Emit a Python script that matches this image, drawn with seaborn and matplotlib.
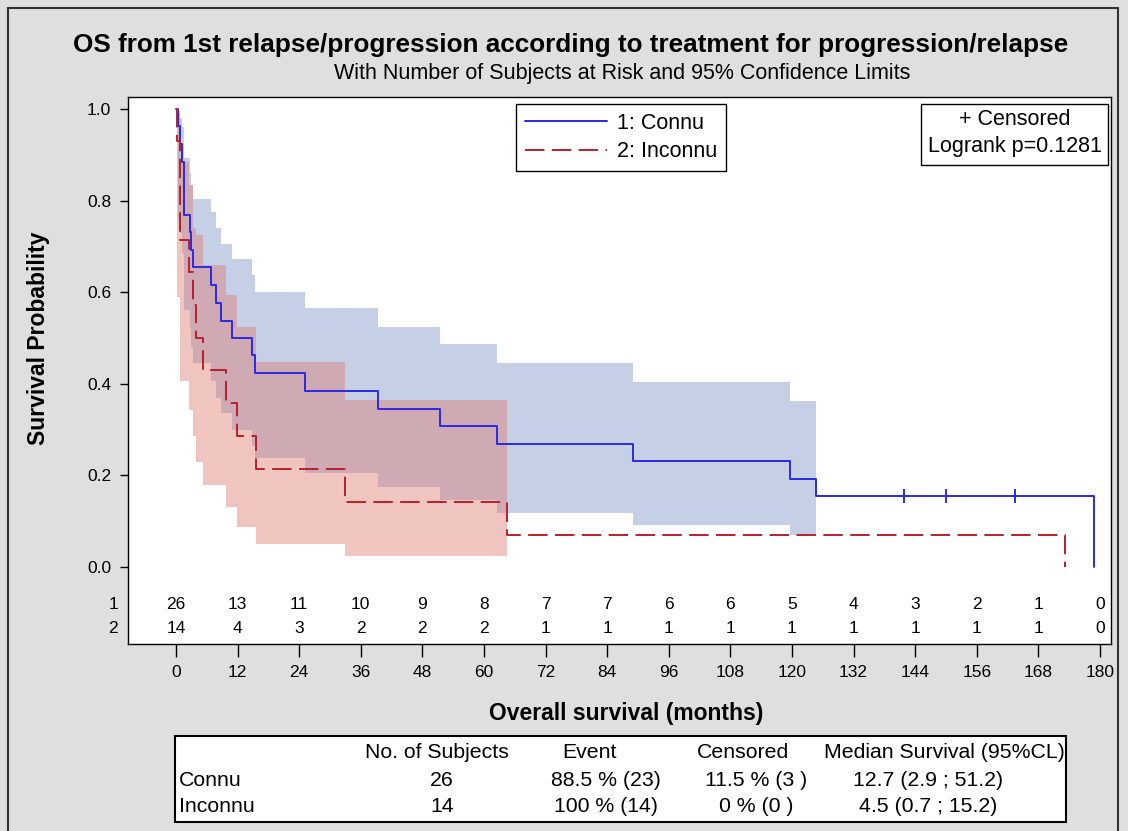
import matplotlib
matplotlib.use("Agg")
import matplotlib.pyplot as plt
import pandas as pd
import seaborn as sns
from matplotlib.patches import Rectangle

# Kaplan-Meier steps (months, survival probability)
connu_time = [0, 0.4, 0.85, 1.2, 1.6, 2.66, 3.0, 3.3, 6.75, 7.7, 8.8, 11.0, 14.9, 15.3,
              25.1, 39.3, 51.4, 62.5, 89.0, 119.7, 124.6, 178.8]
connu_surv = [1.0, 0.962, 0.923, 0.885, 0.769, 0.731, 0.692, 0.654, 0.615, 0.577, 0.538,
              0.500, 0.462, 0.423, 0.385, 0.346, 0.308, 0.269, 0.231, 0.192, 0.154, 0.0]
# 95% limits, one value per step up to the end of the band (124.6)
connu_lower = [1.0, 0.76, 0.73, 0.685, 0.56, 0.52, 0.48, 0.445, 0.405, 0.368, 0.336,
               0.299, 0.265, 0.237, 0.205, 0.175, 0.146, 0.119, 0.092, 0.071, 0.071]
connu_upper = [1.0, 0.995, 0.98, 0.96, 0.892, 0.86, 0.834, 0.803, 0.774, 0.739, 0.705,
               0.672, 0.638, 0.600, 0.565, 0.524, 0.486, 0.445, 0.404, 0.362, 0.362]
connu_cens_time = [141.8, 150.1, 163.5]
connu_cens_surv = [0.154, 0.154, 0.154]

inconnu_time = [0, 0.1, 0.8, 2.6, 3.4, 3.8, 5.3, 9.8, 11.9, 15.5, 33.0, 64.4, 173.2]
inconnu_surv = [1.0, 0.929, 0.714, 0.643, 0.571, 0.500, 0.429, 0.357, 0.286, 0.214,
                0.143, 0.071, 0.0]
inconnu_lower = [1.0, 0.59, 0.406, 0.343, 0.286, 0.229, 0.179, 0.130, 0.088, 0.050,
                 0.024, 0.024]
inconnu_upper = [1.0, 0.99, 0.885, 0.834, 0.74, 0.725, 0.659, 0.594, 0.523, 0.447,
                 0.365, 0.365]

risk_times = [0, 12, 24, 36, 48, 60, 72, 84, 96, 108, 120, 132, 144, 156, 168, 180]
connu_at_risk = [26, 13, 11, 10, 9, 8, 7, 7, 6, 6, 5, 4, 3, 2, 1, 0]
inconnu_at_risk = [14, 4, 3, 2, 2, 2, 1, 1, 1, 1, 1, 1, 1, 1, 1, 0]

group_names = ["1: Connu", "2: Inconnu"]
table_columns = ["No. of Subjects", "Event", "Censored", "Median Survival (95%CL)"]
table_row_names = ["Connu", "Inconnu"]
table_connu = ["26", "88.5 % (23)", "11.5 % (3 )", "12.7 (2.9 ; 51.2)"]
table_inconnu = ["14", "100 % (14)", "0 % (0 )", "4.5 (0.7 ; 15.2)"]

BLUE = "#2a2ae8"
RED = "#b8202e"

sns.set_style("white")
plt.rcParams["font.family"] = ["Liberation Sans", "DejaVu Sans"]
plt.rcParams.update({"text.color": "black", "axes.labelcolor": "black",
                     "xtick.color": "black", "ytick.color": "black"})

W, H = 1128, 831
fig = plt.figure(figsize=(W / 100, H / 100), dpi=100)
fig.patch.set_facecolor("#dfdfdf")
ax = fig.add_axes([128 / W, 1 - 644 / H, 983 / W, 547 / H])
ax.set_facecolor("white")

# confidence bands
n_c = len(connu_lower)
ax.fill_between(connu_time[:n_c], connu_lower, connu_upper, step="post",
                color="#c5d0e7", linewidth=0)
n_i = len(inconnu_lower)
ax.fill_between(inconnu_time[:n_i], inconnu_lower, inconnu_upper, step="post",
                color="#de7c73", alpha=0.45, linewidth=0)

km = pd.concat([
    pd.DataFrame({"time": connu_time, "surv": connu_surv, "group": group_names[0]}),
    pd.DataFrame({"time": inconnu_time, "surv": inconnu_surv, "group": group_names[1]}),
])
sns.lineplot(data=km, x="time", y="surv", hue="group", style="group",
             palette=[BLUE, RED], dashes={group_names[0]: "", group_names[1]: (10, 3.8)},
             drawstyle="steps-post", estimator=None, sort=False, linewidth=1.4, ax=ax)
sns.scatterplot(x=connu_cens_time, y=connu_cens_surv, marker="|", s=110,
                color=BLUE, linewidth=1.4, legend=False, ax=ax)

ax.set_xlim(-9.35, 182.15)
ax.set_ylim(-0.168, 1.026)
ax.set_xticks(risk_times)
ax.set_yticks([0, 0.2, 0.4, 0.6, 0.8, 1.0])
ax.set_yticklabels([f"{v:.1f}" for v in [0, 0.2, 0.4, 0.6, 0.8, 1.0]])
ax.tick_params(axis="x", direction="out", length=9, width=1, pad=6, labelsize=12.5, bottom=True)
ax.tick_params(axis="y", direction="out", length=6, width=1, pad=6, labelsize=12.5, left=True)
for sp in ax.spines.values():
    sp.set_color("black")
    sp.set_linewidth(1)

ax.set_xlabel("Overall survival (months)", fontsize=16.5, fontweight="bold")
ax.xaxis.set_label_coords(0.5066, -0.106)
ax.set_ylabel("Survival Probability", fontsize=16.5, fontweight="bold")
ax.yaxis.set_label_coords(-0.079, 0.559)

# numbers at risk
for t, a, b in zip(risk_times, connu_at_risk, inconnu_at_risk):
    ax.text(t, -0.082, str(a), ha="center", va="center", fontsize=12.5)
    ax.text(t, -0.134, str(b), ha="center", va="center", fontsize=12.5)
ax.text(-0.015, -0.082, "1", transform=ax.get_yaxis_transform(), ha="center",
        va="center", fontsize=12.5, clip_on=False)
ax.text(-0.015, -0.134, "2", transform=ax.get_yaxis_transform(), ha="center",
        va="center", fontsize=12.5, clip_on=False)

handles, labels = ax.get_legend_handles_labels()
keep = [(h, l) for h, l in zip(handles, labels) if l in group_names]
ax.legend([h for h, _ in keep], [l for _, l in keep], loc="upper left",
          bbox_to_anchor=(0.3947, 0.9872), borderaxespad=0, fontsize=15.5,
          handlelength=3.85, frameon=True, fancybox=False, framealpha=1,
          edgecolor="black", borderpad=0.4, labelspacing=0.35, handletextpad=0.45)

# censored / logrank box
ax.add_patch(Rectangle((0.8067, 0.8757), 0.997 - 0.8067, 0.9872 - 0.8757,
                       transform=ax.transAxes, facecolor="white", edgecolor="black",
                       linewidth=1, zorder=5))
ax.text(0.9018, 0.958, "+ Censored", transform=ax.transAxes, ha="center",
        va="center", fontsize=15.5, zorder=6)
ax.text(0.9018, 0.9086, "Logrank p=0.1281", transform=ax.transAxes, ha="center",
        va="center", fontsize=15.5, zorder=6)

fig.text(571 / W, 1 - 45 / H,
         "OS from 1st relapse/progression according to treatment for progression/relapse",
         ha="center", va="center", fontsize=18.8, fontweight="bold")
fig.text(622 / W, 1 - 73 / H, "With Number of Subjects at Risk and 95% Confidence Limits",
         ha="center", va="center", fontsize=15.5)

# summary table under the chart
fig.add_artist(Rectangle((175 / W, 1 - 822 / H), (1066 - 175) / W, (822 - 736) / H,
                         transform=fig.transFigure, facecolor="white",
                         edgecolor="black", linewidth=1.5))
col_x = [442, 606, 756, 928]
for cx, name in zip([437, 590, 743, 944], table_columns):
    fig.text(cx / W, 1 - 753 / H, name, ha="center", va="center", fontsize=15.3)
for ry, rname, vals in zip([780, 807], table_row_names, [table_connu, table_inconnu]):
    fig.text(179 / W, 1 - ry / H, rname, ha="left", va="center", fontsize=15.3)
    for cx, v in zip(col_x, vals):
        fig.text(cx / W, 1 - ry / H, v, ha="center", va="center", fontsize=15.3)

# outer frame of the graph
fig.add_artist(Rectangle((8 / W, -0.01), (1118 - 8) / W, (831 - 8) / H + 0.01,
                         transform=fig.transFigure, fill=False,
                         edgecolor="#333333", linewidth=1.5))

fig.savefig("out.png", dpi=100, facecolor=fig.get_facecolor())
